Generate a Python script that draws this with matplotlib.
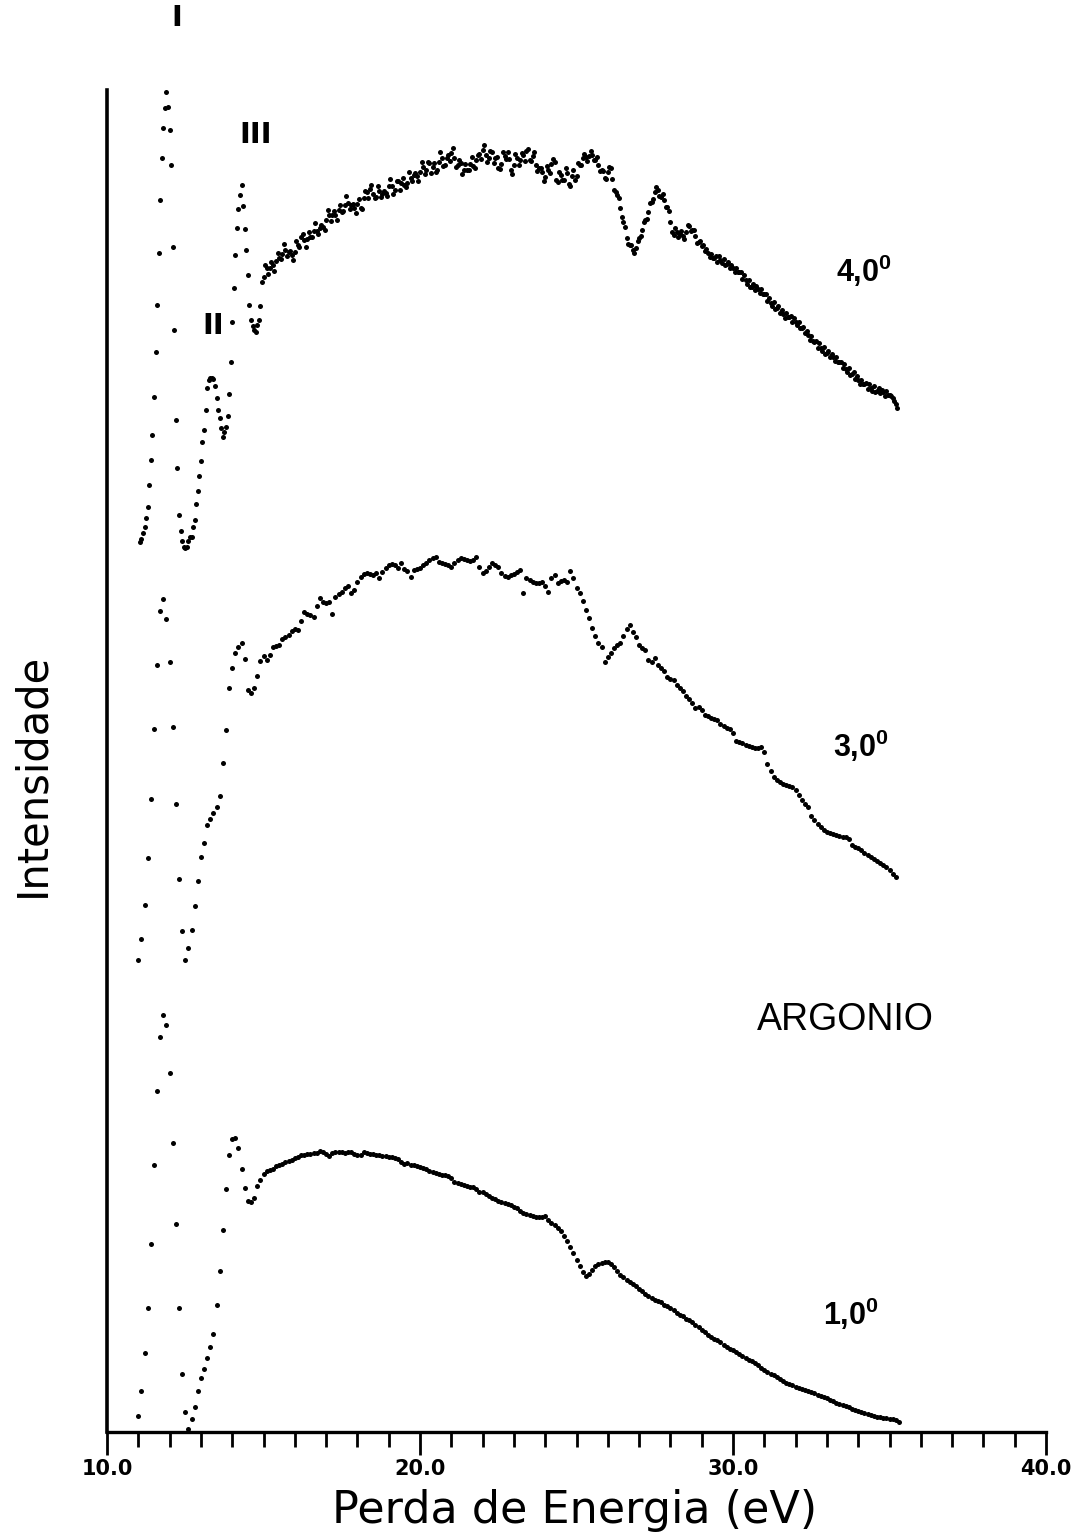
import numpy as np
import matplotlib
matplotlib.use("Agg")
import matplotlib.pyplot as plt
from matplotlib.ticker import MultipleLocator, FixedLocator

plt.rcParams['mathtext.fontset'] = 'custom'
plt.rcParams['mathtext.rm'] = 'Liberation Sans'
plt.rcParams['mathtext.bf'] = 'Liberation Sans:bold'

# Energy-loss spectra of argon at three scattering angles (arbitrary counts)
# 1.0 deg and 3.0 deg: channels every 0.1 eV starting at 11.0 eV
# 4.0 deg: channels every 0.05 eV starting at 11.05 eV
start_1deg, step_1deg = 11.0, 0.1
start_3deg, step_3deg = 11.0, 0.1
start_4deg, step_4deg = 11.05, 0.05

counts_1deg = [
    16, 41, 79, 124, 188, 267, 341, 395, 417, 407,
    359, 289, 208, 124, 58, 20, 3, 13, 25, 41,
    54, 63, 74, 85, 98, 127, 161, 202, 243, 277,
    293, 294, 284, 263, 244, 231, 230, 234, 246, 252,
    258, 261, 262, 263, 266, 267, 268, 270, 271, 272,
    274, 275, 277, 277, 278, 278, 279, 279, 281, 280,
    278, 276, 279, 280, 280, 280, 279, 280, 280, 278,
    277, 277, 280, 279, 278, 278, 277, 277, 276, 276,
    275, 275, 274, 273, 270, 268, 269, 267, 267, 266,
    265, 264, 263, 261, 260, 259, 258, 257, 257, 256,
    254, 250, 249, 248, 247, 246, 245, 245, 243, 240,
    240, 238, 236, 234, 233, 231, 230, 229, 228, 227,
    225, 224, 221, 219, 218, 217, 216, 215, 215, 215,
    216, 212, 209, 207, 204, 201, 196, 191, 185, 179,
    172, 166, 160, 156, 158, 162, 166, 168, 169, 170,
    170, 168, 165, 161, 157, 155, 152, 150, 148, 146,
    143, 141, 138, 136, 134, 132, 131, 130, 127, 126,
    124, 122, 119, 117, 116, 113, 112, 110, 107, 105,
    102, 100, 97, 95, 93, 92, 90, 87, 85, 83,
    82, 80, 78, 76, 74, 72, 71, 69, 67, 64,
    62, 60, 58, 57, 55, 53, 51, 49, 48, 47,
    45, 44, 43, 42, 41, 40, 39, 37, 36, 35,
    34, 32, 31, 29, 28, 27, 26, 25, 23, 22,
    21, 20, 19, 18, 17, 16, 15, 15, 14, 14,
    13, 13, 12, 10,
]

counts_3deg = [
    7, 28, 62, 109, 168, 238, 302, 356, 368, 348,
    305, 240, 163, 88, 36, 7, 19, 37, 61, 86,
    110, 124, 142, 148, 154, 160, 171, 204, 237, 279,
    299, 314, 320, 324, 308, 277, 274, 279, 291, 306,
    311, 307, 312, 320, 321, 322, 328, 330, 332, 336,
    338, 337, 346, 355, 353, 352, 350, 361, 369, 365,
    364, 365, 353, 370, 373, 375, 379, 381, 374, 377,
    385, 390, 393, 394, 393, 392, 394, 389, 395, 399,
    402, 403, 402, 399, 404, 398, 396, 390, 397, 398,
    399, 402, 404, 407, 409, 410, 405, 404, 403, 402,
    400, 404, 407, 409, 408, 407, 406, 407, 410, 400,
    394, 396, 400, 404, 402, 400, 394, 391, 390, 392,
    393, 395, 397, 374, 389, 387, 385, 384, 384, 385,
    381, 375, 389, 392, 384, 386, 387, 385, 396, 389,
    379, 374, 366, 357, 349, 339, 331, 324, 320, 305,
    310, 314, 319, 322, 324, 331, 338, 342, 335, 330,
    322, 319, 317, 307, 305, 309, 302, 299, 296, 290,
    288, 287, 282, 279, 276, 271, 268, 264, 259, 260,
    257, 252, 251, 249, 248, 247, 243, 241, 239, 238,
    234, 226, 225, 224, 222, 221, 220, 219, 219, 220,
    215, 203, 196, 190, 187, 185, 183, 182, 181, 180,
    177, 172, 167, 163, 160, 151, 147, 143, 140, 137,
    135, 134, 133, 132, 131, 130, 130, 128, 122, 120,
    119, 117, 114, 112, 110, 108, 106, 104, 102, 100,
    97, 93, 90,
]

counts_4deg = [
    # 11.05 - 15.00 eV
    10, 13, 19, 25, 34, 45, 67, 92, 117, 155,
    200, 247, 299, 352, 394, 424, 444, 460, 445, 422,
    387, 305, 222, 132, 84, 37, 21, 11, 5, 4,
    5, 11, 15, 15, 25, 32, 48, 61, 76, 91,
    110, 122, 142, 164, 172, 174, 174, 173, 166, 154,
    142, 134, 124, 115, 120, 125, 136, 158, 190, 230,
    264, 297, 324, 343, 357, 367, 346, 323, 302, 277,
    247, 232, 226, 222, 220, 227, 232, 246, 270, 275,
    # 15.05 - 29.00 eV
    287, 284, 278, 284, 290, 287, 281, 291, 299, 294, 293, 298, 308, 302, 296, 300, 301, 297, 292, 300,
    311, 307, 305, 315, 318, 312, 305, 313, 320, 315, 315, 321, 329, 321, 318, 324, 327, 325, 322, 332,
    342, 337, 331, 337, 341, 337, 332, 342, 347, 340, 341, 347, 356, 349, 343, 347, 348, 344, 339, 348,
    353, 344, 343, 354, 361, 360, 354, 363, 367, 358, 354, 355, 366, 361, 355, 358, 361, 359, 356, 366,
    373, 366, 358, 362, 371, 371, 362, 369, 374, 367, 365, 369, 380, 374, 371, 377, 379, 376, 371, 380,
    390, 385, 378, 382, 390, 389, 379, 385, 389, 380, 382, 390, 400, 394, 386, 387, 394, 397, 391, 399,
    404, 394, 385, 387, 392, 389, 378, 382, 388, 382, 382, 388, 395, 386, 384, 392, 397, 398, 393, 402,
    407, 397, 390, 394, 401, 400, 389, 394, 395, 384, 383, 388, 400, 396, 393, 400, 393, 382, 378, 387,
    398, 394, 387, 392, 399, 397, 391, 401, 403, 392, 391, 396, 400, 387, 381, 384, 384, 380, 371, 375,
    386, 382, 379, 388, 393, 390, 372, 370, 380, 377, 372, 372, 384, 379, 368, 366, 376, 382, 372, 376,
    389, 387, 387, 394, 398, 395, 391, 396, 401, 397, 392, 392, 395, 387, 381, 382, 381, 374, 373, 380,
    385, 384, 373, 362, 360, 357, 354, 344, 335, 330, 325, 314, 308, 307, 307, 302, 299, 304, 311, 314,
    316, 322, 330, 332, 333, 340, 349, 350, 353, 360, 365, 362, 356, 355, 358, 352, 345, 345, 341, 330,
    320, 317, 324, 320, 315, 318, 321, 316, 313, 320, 327, 326, 321, 322, 322, 316, 309, 310, 311, 306,
    # 29.05 - 35.25 eV
    307, 301, 303, 299, 295, 298, 294, 294, 296, 290, 296, 292, 289, 293, 287, 288, 290, 284, 287, 284,
    280, 284, 280, 280, 280, 273, 277, 272, 268, 272, 265, 265, 268, 262, 266, 263, 259, 263, 258, 258,
    258, 251, 254, 249, 246, 250, 243, 244, 246, 239, 242, 238, 234, 239, 235, 235, 236, 230, 234, 230,
    227, 230, 224, 224, 225, 219, 221, 217, 212, 216, 211, 210, 211, 204, 209, 204, 201, 205, 198, 199,
    201, 195, 198, 195, 191, 195, 190, 190, 190, 184, 188, 183, 180, 184, 177, 178, 180, 173, 176, 172,
    168, 172, 168, 168, 169, 163, 168, 164, 161, 166, 160, 161, 164, 159, 162, 160, 156, 161, 157, 157,
    156, 154, 151, 148, 144,
]

angle_labels = ["1,0", "3,0", "4,0"]
roman_labels = ["I", "II", "III"]
x_tick_labels = ["10.0", "20.0", "30.0", "40.0"]

# vertical shift of each spectrum in the stacked display
shift_1deg, shift_3deg, shift_4deg = 0, 465, 880

energy_1deg = np.round(start_1deg + step_1deg * np.arange(len(counts_1deg)), 2)
energy_3deg = np.round(start_3deg + step_3deg * np.arange(len(counts_3deg)), 2)
energy_4deg = np.round(start_4deg + step_4deg * np.arange(len(counts_4deg)), 2)

fig = plt.figure(figsize=(10.79, 15.38), dpi=100)
ax = fig.add_axes([107 / 1079, 106 / 1538, 939 / 1079, 1342 / 1538])

for energy, counts, shift in [(energy_1deg, counts_1deg, shift_1deg),
                              (energy_3deg, counts_3deg, shift_3deg),
                              (energy_4deg, counts_4deg, shift_4deg)]:
    ax.plot(energy, np.asarray(counts) + shift, linestyle='none', marker='o',
            markersize=3.6, color='black', markeredgewidth=0, clip_on=False)

ax.set_xlim(10, 40)
ax.set_ylim(0, 1342)

for side in ('top', 'right'):
    ax.spines[side].set_visible(False)
ax.spines['left'].set_linewidth(2.6)
ax.spines['bottom'].set_linewidth(2.4)

ax.xaxis.set_major_locator(FixedLocator([10, 20, 30, 40]))
ax.xaxis.set_minor_locator(MultipleLocator(1))
ax.set_xticklabels(x_tick_labels, fontsize=15, fontweight='bold',
                   family=['DejaVu Sans'])
ax.tick_params(axis='x', which='major', direction='out', length=16.5,
               width=2.0, pad=3)
ax.tick_params(axis='x', which='minor', direction='out', length=10.8,
               width=2.0)
ax.set_yticks([])

# peak markers
narrow_bold = dict(family=['Liberation Sans Narrow', 'DejaVu Sans'],
                   fontweight='bold', fontsize=21, ha='center', va='center')
ax.text(12.22, 1414, roman_labels[0], clip_on=False, **narrow_bold)
ax.text(13.39, 1106, roman_labels[1], clip_on=False, **narrow_bold)
ax.text(14.74, 1297, roman_labels[2], clip_on=False, **narrow_bold)

# scattering angles
angle_style = dict(family=['Liberation Sans', 'DejaVu Sans'],
                   fontweight='bold', fontsize=22, ha='left', va='baseline')
ax.text(32.88, 107, angle_labels[0] + r'$^{\mathbf{0}}$', **angle_style)
ax.text(33.19, 675, angle_labels[1] + r'$^{\mathbf{0}}$', **angle_style)
ax.text(33.29, 1150, angle_labels[2] + r'$^{\mathbf{0}}$', **angle_style)

ax.text(30.77, 402, "ARGONIO", family=['Liberation Sans', 'DejaVu Sans'],
        fontsize=27, ha='left', va='baseline')

fig.text(575 / 1079, 1 - 1510 / 1538, "Perda de Energia (eV)",
         fontsize=32, ha='center', va='center', family=['DejaVu Sans'])
fig.text(32 / 1079, 1 - 775 / 1538, "Intensidade", rotation=90,
         fontsize=30, ha='center', va='center', family=['DejaVu Sans'])

fig.savefig("out.png", dpi=100, facecolor='white')
